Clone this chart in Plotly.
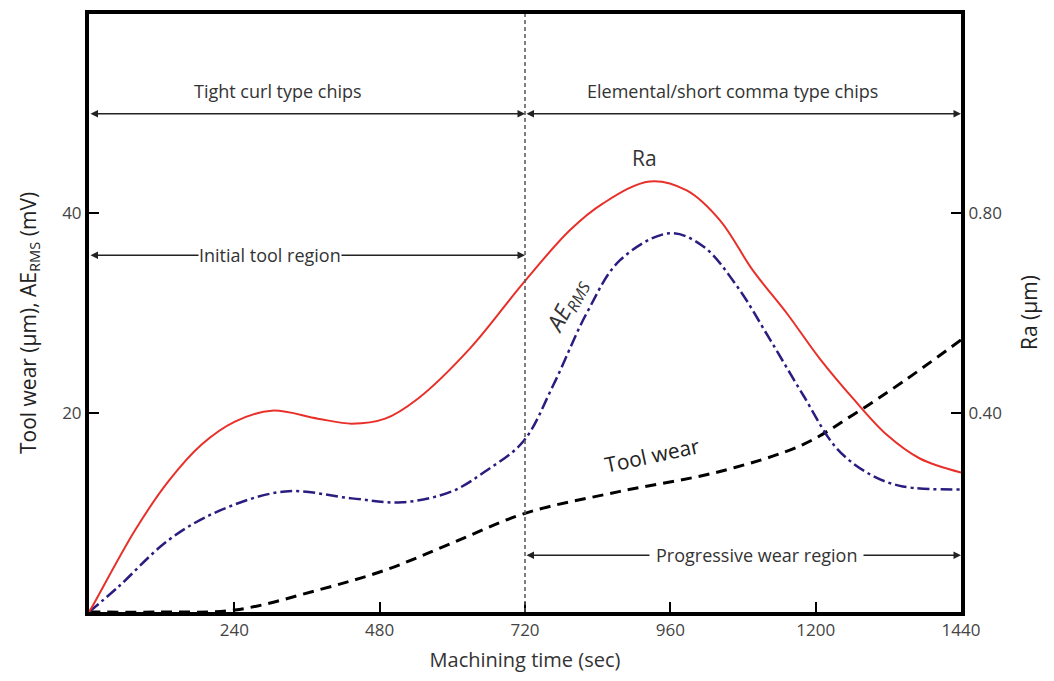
import plotly.graph_objects as go

# Machining time (sec)
t_ra = [0, 5, 76, 131, 186, 241, 302, 378, 434, 489, 543, 630, 717, 794, 849, 926, 987, 1042, 1096, 1152, 1207, 1262, 1317, 1372, 1440]
ra_um = [0, 0.010, 0.164, 0.262, 0.336, 0.382, 0.404, 0.388, 0.378, 0.388, 0.428, 0.530, 0.660, 0.766, 0.820, 0.864, 0.846, 0.786, 0.686, 0.600, 0.508, 0.428, 0.356, 0.308, 0.280]

t_ae = [0, 48, 131, 213, 324, 434, 517, 599, 654, 717, 767, 822, 877, 959, 1014, 1070, 1124, 1179, 1235, 1290, 1344, 1440]
ae_mv = [0, 2.5, 7.2, 10.1, 12.1, 11.4, 11.0, 12.1, 14.1, 17.1, 22.8, 30.0, 35.3, 38.0, 36.7, 32.7, 27.4, 21.8, 16.4, 13.8, 12.6, 12.3]

t_tw = [0, 120, 241, 378, 489, 599, 720, 877, 1042, 1179, 1262, 1344, 1440]
tw_um = [0, 0, 0.2, 2.2, 4.2, 6.9, 9.9, 12.1, 14.1, 16.8, 19.8, 23.1, 27.3]

x_ticks = [240, 480, 720, 960, 1200, 1440]
y_ticks = [20, 40]
y2_ticks = [0.40, 0.80]

FONT = "Open Sans"
fig = go.Figure()

fig.add_trace(go.Scatter(x=t_tw, y=tw_um, mode="lines", line=dict(color="black", width=3, dash="11px,7px", shape="spline"), showlegend=False))
fig.add_trace(go.Scatter(x=t_ae, y=ae_mv, mode="lines", line=dict(color="#2a1d80", width=2.5, dash="12px,4px,3px,4px", shape="spline"), showlegend=False))
fig.add_trace(go.Scatter(x=t_ra, y=ra_um, mode="lines", yaxis="y2", line=dict(color="#e8302a", width=2, shape="spline"), showlegend=False))

axis_common = dict(showline=True, linecolor="black", linewidth=4, ticks="inside", ticklen=10, tickwidth=2,
                   tickcolor="black", showgrid=False, zeroline=False,
                   tickfont=dict(family=FONT, size=17, color="#444"))

fig.update_layout(
    width=1054, height=681,
    margin=dict(l=81, r=101, t=2, b=77),
    paper_bgcolor="white", plot_bgcolor="white",
    xaxis=dict(range=[0, 1440], tickvals=x_ticks, ticktext=[str(v) for v in x_ticks], mirror=True,
               title=dict(text="Machining time (sec)", font=dict(family=FONT, size=20, color="#333"), standoff=14),
               **axis_common),
    yaxis=dict(range=[0, 60], tickvals=y_ticks, ticktext=[str(v) for v in y_ticks], **axis_common),
    yaxis2=dict(range=[0, 1.2], overlaying="y", side="right", tickvals=y2_ticks,
                ticktext=["%.2f" % v for v in y2_ticks], **axis_common),
)

# vertical dashed separator at 720 s
fig.add_shape(type="line", x0=720, x1=720, y0=0, y1=1, xref="x", yref="paper",
              line=dict(color="#555", width=1.5, dash="4px,3px"))

ann_font = dict(family=FONT, size=18, color="#333")

def dbl_arrow(x0, x1, y):
    fig.add_annotation(x=x1, y=y, ax=x0, ay=y, xref="x", yref="y", axref="x", ayref="y",
                       text="", showarrow=True, arrowhead=2, startarrowhead=2, arrowside="end+start",
                       arrowsize=1, arrowwidth=1.5, arrowcolor="#222")

dbl_arrow(0, 720, 50)
dbl_arrow(720, 1440, 50)
dbl_arrow(0, 720, 35.8)
dbl_arrow(720, 1440, 5.7)

fig.add_annotation(x=312, y=52.3, text="Tight curl type chips", showarrow=False, font=ann_font)
fig.add_annotation(x=1063, y=52.3, text="Elemental/short comma type chips", showarrow=False, font=ann_font)
fig.add_annotation(x=299, y=35.8, text="Initial tool region", showarrow=False, font=ann_font, bgcolor="white", borderpad=0)
fig.add_annotation(x=1103, y=5.7, text="Progressive wear region", showarrow=False, font=ann_font, bgcolor="white", borderpad=6)

fig.add_annotation(x=918, y=45.6, text="Ra", showarrow=False, font=dict(family=FONT, size=21, color="#333"))
fig.add_annotation(x=788, y=30.8, text="<i>AE<sub>RMS</sub></i>", showarrow=False, textangle=-62,
                   font=dict(family=FONT, size=23, color="#333"))
fig.add_annotation(x=930, y=15.8, text="Tool wear", showarrow=False, textangle=-12,
                   font=dict(family=FONT, size=21, color="#222"))

fig.add_annotation(x=-0.069, y=0.483, xref="paper", yref="paper", xanchor="center", yanchor="middle",
                   text="Tool wear (μm), AE<sub>RMS</sub> (mV)",
                   showarrow=False, textangle=-90, font=dict(family=FONT, size=21, color="#222"))
fig.add_annotation(x=1.078, y=0.5, xref="paper", yref="paper", xanchor="center", yanchor="middle",
                   text="Ra (μm)",
                   showarrow=False, textangle=-90, font=dict(family=FONT, size=21, color="#222"))

fig.write_html("out.html")
